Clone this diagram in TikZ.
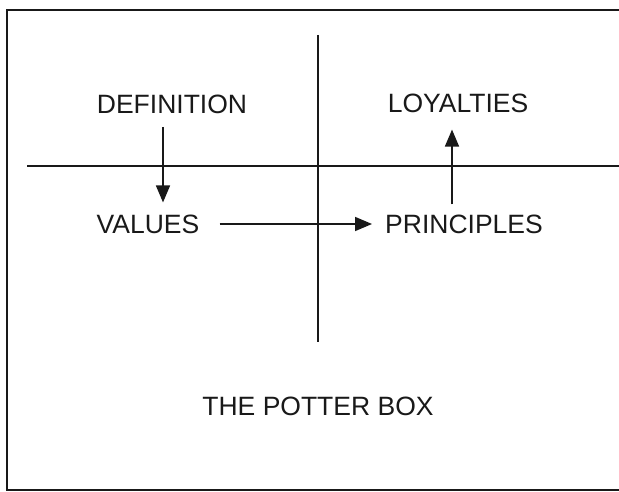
\documentclass[tikz,border=0pt]{standalone}
\usepackage{fontspec}
\setmainfont{Liberation Sans}
\usetikzlibrary{arrows.meta}
\begin{document}
\begin{tikzpicture}[x=1pt,y=-1pt,
  rule/.style={line width=1.7pt, black!90},
  arr/.style={line width=1.7pt, black!90, -{Triangle[length=17pt,width=14pt]}},
  lbl/.style={inner sep=0pt, font=\fontsize{26.5}{31}\selectfont, text=black!90}]
\useasboundingbox (0,0) rectangle (619,492);
\clip (0,0) rectangle (619,492);
\fill[white] (0,0) rectangle (619,492);
% frame
\draw[rule] (7,10) rectangle (660,490);
% cross lines
\draw[rule] (27,166) -- (640,166);
\draw[rule] (318,35) -- (318,342);
% labels
\node[lbl] (def) at (172,104) {DEFINITION};
\node[lbl] (loy) at (458,103) {LOYALTIES};
\node[lbl] (val) at (148,224) {VALUES};
\node[lbl] (pri) at (464,224) {PRINCIPLES};
\node[lbl] (title) at (318,406) {THE POTTER BOX};
% arrows
\coordinate (c1) at (163,127);
\draw[arr, shorten >=12pt] (c1) -- (c1 |- val.north);
\draw[arr, shorten <=20pt, shorten >=13pt] (val.east) -- (pri.west);
\coordinate (c3) at (452,0);
\draw[arr, shorten <=10pt, shorten >=17pt] (c3 |- pri.north) -- (c3 |- loy.south);
\end{tikzpicture}
\end{document}
